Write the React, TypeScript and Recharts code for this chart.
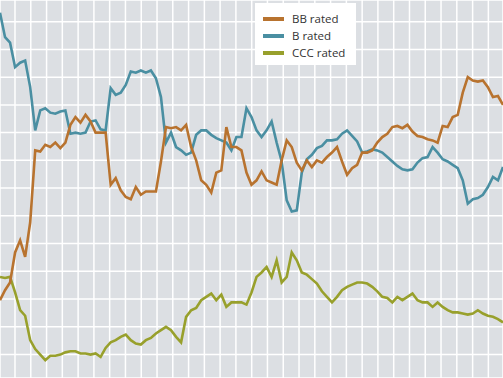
import { CartesianGrid, Line, LineChart, XAxis, YAxis } from "recharts"

// share of the index, % (one point per period)
const bbRated = [
  14.9, 15.8, 16.5, 19.2, 20.3, 18.8, 21.9, 28.4, 28.3, 28.9, 28.7, 29.1, 28.6, 29.1, 30.7, 31.4, 30.9,
  31.6, 31.0, 30.0, 30.0, 30.0, 25.3, 25.9, 24.8, 24.2, 24.0, 25.1, 24.4, 24.7, 24.7, 24.7, 27.4, 30.5,
  30.4, 30.5, 30.2, 30.7, 28.7, 27.5, 25.7, 25.3, 24.6, 26.4, 26.6, 30.5, 28.7, 28.7, 28.4, 26.4, 25.3,
  25.7, 26.5, 25.7, 25.5, 25.3, 27.5, 29.3, 28.7, 27.3, 26.6, 27.5, 26.9, 27.5, 27.3, 27.8, 28.2, 28.7,
  27.4, 26.2, 26.8, 27.1, 28.2, 28.2, 28.4, 29.1, 29.6, 29.9, 30.5, 30.6, 30.4, 30.7, 30.1, 29.7, 29.6,
  29.4, 29.3, 29.1, 30.6, 30.5, 31.4, 31.6, 33.6, 35.0, 34.7, 34.6, 34.7, 34.1, 33.2, 33.3, 32.5,
]

const bRated = [
  40.8, 38.6, 38.1, 35.9, 36.3, 36.5, 34.1, 30.2, 32.0, 32.2, 31.8, 31.7, 31.9, 32.0, 29.9, 30.0, 29.9,
  30.0, 31.0, 31.1, 30.3, 30.2, 34.0, 33.4, 33.6, 34.3, 35.5, 35.4, 35.6, 35.4, 35.6, 34.9, 33.2, 29.1,
  30.0, 28.7, 28.4, 28.0, 28.2, 29.8, 30.2, 30.2, 29.8, 29.5, 29.3, 29.1, 28.4, 29.6, 29.6, 32.2, 31.4,
  30.2, 29.6, 30.2, 31.0, 29.1, 27.4, 23.9, 22.9, 23.0, 26.4, 27.6, 28.0, 28.6, 28.8, 29.3, 29.3, 29.4,
  29.9, 30.2, 29.7, 29.2, 28.2, 28.3, 28.5, 28.4, 28.2, 27.8, 27.4, 27.0, 26.7, 26.6, 26.7, 27.3, 27.7,
  27.8, 28.7, 28.2, 27.6, 27.4, 27.1, 26.8, 25.7, 23.6, 24.0, 24.1, 24.4, 25.1, 26.0, 25.7, 26.9,
]

const cccRated = [
  17.0, 16.9, 17.0, 15.6, 14.0, 13.5, 11.3, 10.5, 10.0, 9.5, 9.9, 9.9, 10.0, 10.2, 10.3, 10.3, 10.1,
  10.1, 10.0, 10.1, 9.8, 10.6, 11.1, 11.3, 11.6, 11.8, 11.3, 11.0, 10.9, 11.3, 11.5, 11.9, 12.2, 12.5,
  12.2, 11.6, 11.1, 13.4, 14.0, 14.2, 14.9, 15.2, 15.5, 14.9, 15.4, 14.3, 14.7, 14.7, 14.7, 14.5, 15.6,
  17.0, 17.4, 17.9, 17.0, 18.5, 16.5, 17.0, 19.2, 18.5, 17.4, 17.2, 16.8, 16.4, 15.7, 15.2, 14.7, 15.2,
  15.8, 16.1, 16.3, 16.5, 16.5, 16.4, 16.1, 15.7, 15.2, 15.1, 14.7, 15.2, 14.9, 15.2, 15.5, 14.9, 14.7,
  14.7, 14.3, 14.7, 14.3, 14.0, 13.8, 13.8, 13.7, 13.6, 13.7, 14.0, 13.7, 13.5, 13.4, 13.2, 12.9,
]

const xGridTicks = [
  2.98, 6.12, 9.26, 12.39, 15.53, 18.67, 21.8, 24.94, 28.08, 31.22, 34.35, 37.49, 40.63, 43.76, 46.9,
  50.04, 53.17, 56.31, 59.45, 62.59, 65.72, 68.86, 72.0, 75.13, 78.27, 81.41, 84.54, 87.68, 90.82,
  93.96, 97.09,
]
const yGridTicks = [10, 12.5, 15, 17.5, 20, 22.5, 25, 27.5, 30, 32.5, 35, 37.5, 40]

const series = [
  { key: "bb", name: "BB rated", color: "#b8732f" },
  { key: "b", name: "B rated", color: "#4a8fa2" },
  { key: "ccc", name: "CCC rated", color: "#98a02c" },
]

const data = bbRated.map((bb, i) => ({ t: i, bb, b: bRated[i], ccc: cccRated[i] }))

function RatingLegend() {
  return (
    <div
      style={{
        position: "absolute",
        left: 255,
        top: 3,
        background: "#fff",
        width: 101,
        height: 62,
        boxSizing: "border-box",
        padding: "7px 0 0 8px",
        fontFamily: "'Open Sans', sans-serif",
        fontSize: 11.5,
        color: "#333",
      }}
    >
      {series.map((s) => (
        <div key={s.key} style={{ display: "flex", alignItems: "center", height: 17 }}>
          <span style={{ width: 21, height: 4, background: s.color, marginRight: 8 }} />
          {s.name}
        </div>
      ))}
    </div>
  )
}

export default function App() {
  return (
    <div style={{ position: "absolute", left: 0, top: 0, width: 503, height: 378 }}>
      <LineChart width={503} height={378} data={data} margin={{ top: 0, right: 0, bottom: 0, left: 0 }}>
        <CartesianGrid fill="#dcdfe3" stroke="#ffffff" strokeWidth={1.5} />
        <XAxis dataKey="t" type="number" domain={[0, 100]} ticks={xGridTicks} interval={0} hide />
        <YAxis type="number" domain={[7.89, 41.95]} ticks={yGridTicks} interval={0} hide />
        {["ccc", "b", "bb"].map((k) => {
          const s = series.find((x) => x.key === k)!
          return (
            <Line
              key={k}
              dataKey={k}
              stroke={s.color}
              strokeWidth={2.6}
              dot={false}
              activeDot={false}
              isAnimationActive={false}
            />
          )
        })}
      </LineChart>
      <RatingLegend />
    </div>
  )
}
